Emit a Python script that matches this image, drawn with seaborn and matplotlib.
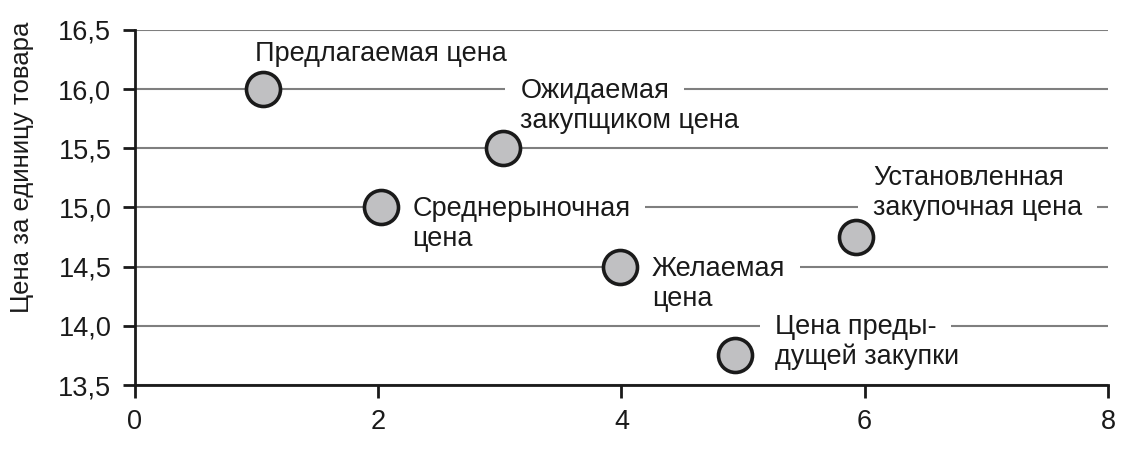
import numpy as np
import pandas as pd
import matplotlib
matplotlib.use("Agg")
import matplotlib.pyplot as plt
from matplotlib.patches import Rectangle
from matplotlib.ticker import FuncFormatter
import seaborn as sns

# data
x_vals = [1.05, 2.02, 3.03, 3.99, 4.93, 5.93]
prices = [16.0, 15.0, 15.5, 14.5, 13.75, 14.75]
names = ["Предлагаемая цена",
         "Среднерыночная\nцена",
         "Ожидаемая\nзакупщиком цена",
         "Желаемая\nцена",
         "Цена преды-\nдущей закупки",
         "Установленная\nзакупочная цена"]
x_ticks = [0, 2, 4, 6, 8]
y_ticks = [13.5, 14.0, 14.5, 15.0, 15.5, 16.0, 16.5]

# where each label's first line sits (left edge, vertical centre), data units
label_pos = [(0.99, 16.30), (2.28, 14.99), (3.17, 15.98),
             (4.25, 14.48), (5.26, 13.99), (6.07, 15.25)]

FS = 19.5
LINE_STEP = 21.5   # points between label lines
PAD_X = 15         # px of white space left/right of a label line
PAD_Y = 1

sns.set_theme(style="ticks")
plt.rcParams["font.family"] = ["Liberation Sans", "DejaVu Sans"]
plt.rcParams["font.size"] = FS

df = pd.DataFrame({"x": x_vals, "price": prices})

fig, ax = plt.subplots(figsize=(11.34, 4.53), dpi=100)
fig.subplots_adjust(left=0.119, right=0.977, top=0.934, bottom=0.150)

ax.set_axisbelow(True)
ax.grid(axis="y", color="#7f7f7f", lw=1.5)
ax.grid(axis="x", visible=False)

sns.scatterplot(data=df, x="x", y="price", ax=ax, s=600, color="#c0c0c2",
                edgecolor="#1a1a1a", linewidth=2.6, zorder=5, clip_on=False)

texts = []
for name, (lx, ly) in zip(names, label_pos):
    for i, line in enumerate(name.split("\n")):
        t = ax.annotate(line, xy=(lx, ly), xytext=(0, -i * LINE_STEP),
                        textcoords="offset points", ha="left", va="center",
                        fontsize=FS, color="#1a1a1a", zorder=4)
        texts.append(t)

ax.set_xlim(0, 8)
ax.set_ylim(13.5, 16.5)
ax.set_xticks(x_ticks)
ax.set_yticks(y_ticks)
ax.yaxis.set_major_formatter(FuncFormatter(lambda v, p: f"{v:.1f}".replace(".", ",")))
ax.set_xlabel("")
ax.set_ylabel("Цена за единицу товара", fontsize=18.5, color="#1a1a1a")
ax.yaxis.set_label_coords(-0.104, 0.614)

for side in ["top", "right"]:
    ax.spines[side].set_visible(False)
for side in ["left", "bottom"]:
    ax.spines[side].set_linewidth(2)
    ax.spines[side].set_color("#1a1a1a")
ax.tick_params(axis="both", direction="out", length=9, width=2, color="#1a1a1a",
               labelsize=FS, labelcolor="#1a1a1a", pad=8)

# white strips behind each label line so the grid is cut only that wide
fig.canvas.draw()
inv = ax.transData.inverted()
for t in texts:
    bb = t.get_window_extent()
    (x0, y0), (x1, y1) = inv.transform([(bb.x0 - PAD_X, bb.y0 - PAD_Y),
                                        (bb.x1 + PAD_X, bb.y1 + PAD_Y)])
    ax.add_patch(Rectangle((x0, y0), x1 - x0, y1 - y0, fc="white", ec="none",
                           zorder=3, clip_on=False))

fig.savefig("out.png", dpi=100)
